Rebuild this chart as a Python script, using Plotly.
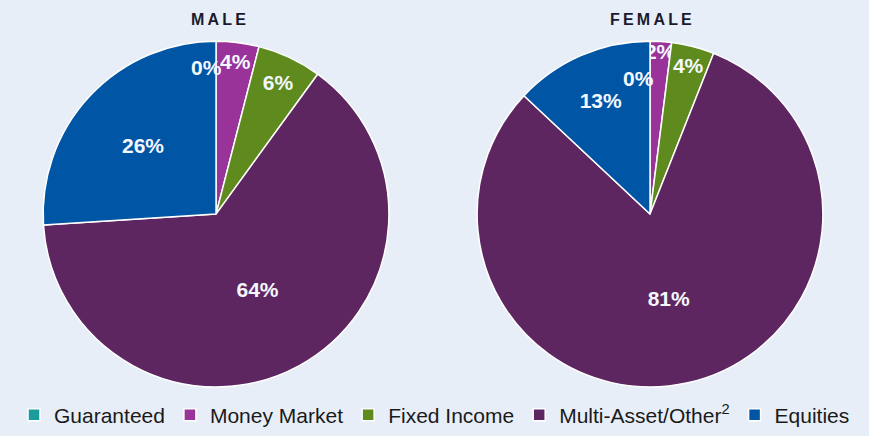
import plotly.graph_objects as go

categories = ["Guaranteed", "Money Market", "Fixed Income", "Multi-Asset/Other<sup>2</sup>", "Equities"]
male_values = [0, 4, 6, 64, 26]
female_values = [0, 2, 4, 81, 13]
colors = ["#1A9C9C", "#993399", "#5E8A1E", "#5E2660", "#0055A5"]
bg = "#E8EEF8"
label_font = dict(color="#F4F8FF", size=21, family="Arial, Liberation Sans", weight="bold")

fig = go.Figure()
for name, vals, dom in [("MALE", male_values, [0.0467, 0.4505]),
                        ("FEMALE", female_values, [0.546, 0.950])]:
    fig.add_trace(go.Pie(
        labels=categories, values=vals, sort=False, direction="clockwise", rotation=0,
        marker=dict(colors=colors, line=dict(color="white", width=1.5)),
        texttemplate="%{value}%",
        textposition=["none" if v == 0 else "inside" for v in vals],
        insidetextorientation="horizontal",
        textfont=label_font,
        domain=dict(x=dom, y=[0.098, 0.904]), showlegend=(name == "MALE"),
        hoverinfo="label+percent", name=name,
    ))

# zero-share slices have no area for Plotly to place their label in
fig.add_annotation(text=f"{male_values[0]}%", x=206/869, y=1-69/436, xref="paper", yref="paper",
                   xanchor="center", yanchor="middle", showarrow=False, font=label_font)
fig.add_annotation(text=f"{female_values[0]}%", x=638/869, y=1-80/436, xref="paper", yref="paper",
                   xanchor="center", yanchor="middle", showarrow=False, font=label_font)

title_font = dict(size=16, color="#1a1a2e", family="Arial, Liberation Sans", weight="bold")
fig.add_annotation(text="M\u2009A\u2009L\u2009E", x=218/869, y=1-20/436, xref="paper", yref="paper",
                   xanchor="center", yanchor="middle", showarrow=False, font=title_font)
fig.add_annotation(text="F\u2009E\u2009M\u2009A\u2009L\u2009E", x=651/869, y=1-20/436, xref="paper", yref="paper",
                   xanchor="center", yanchor="middle", showarrow=False, font=title_font)

fig.update_layout(
    width=869, height=436, margin=dict(l=0, r=0, t=0, b=0),
    paper_bgcolor=bg, plot_bgcolor=bg,
    uniformtext=dict(minsize=21, mode="show"),
    legend=dict(orientation="h", x=0.5, xanchor="center", y=1-422/436, yanchor="middle",
                font=dict(size=21, color="#1a1a1a", family="Liberation Sans Narrow, Arial Narrow, Arial"),
                itemwidth=30, traceorder="normal", bgcolor="rgba(0,0,0,0)"),
)
fig.write_html("out.html", config={"displayModeBar": False},
               post_script="document.body.style.margin='0';document.body.style.background='#E8EEF8';")
